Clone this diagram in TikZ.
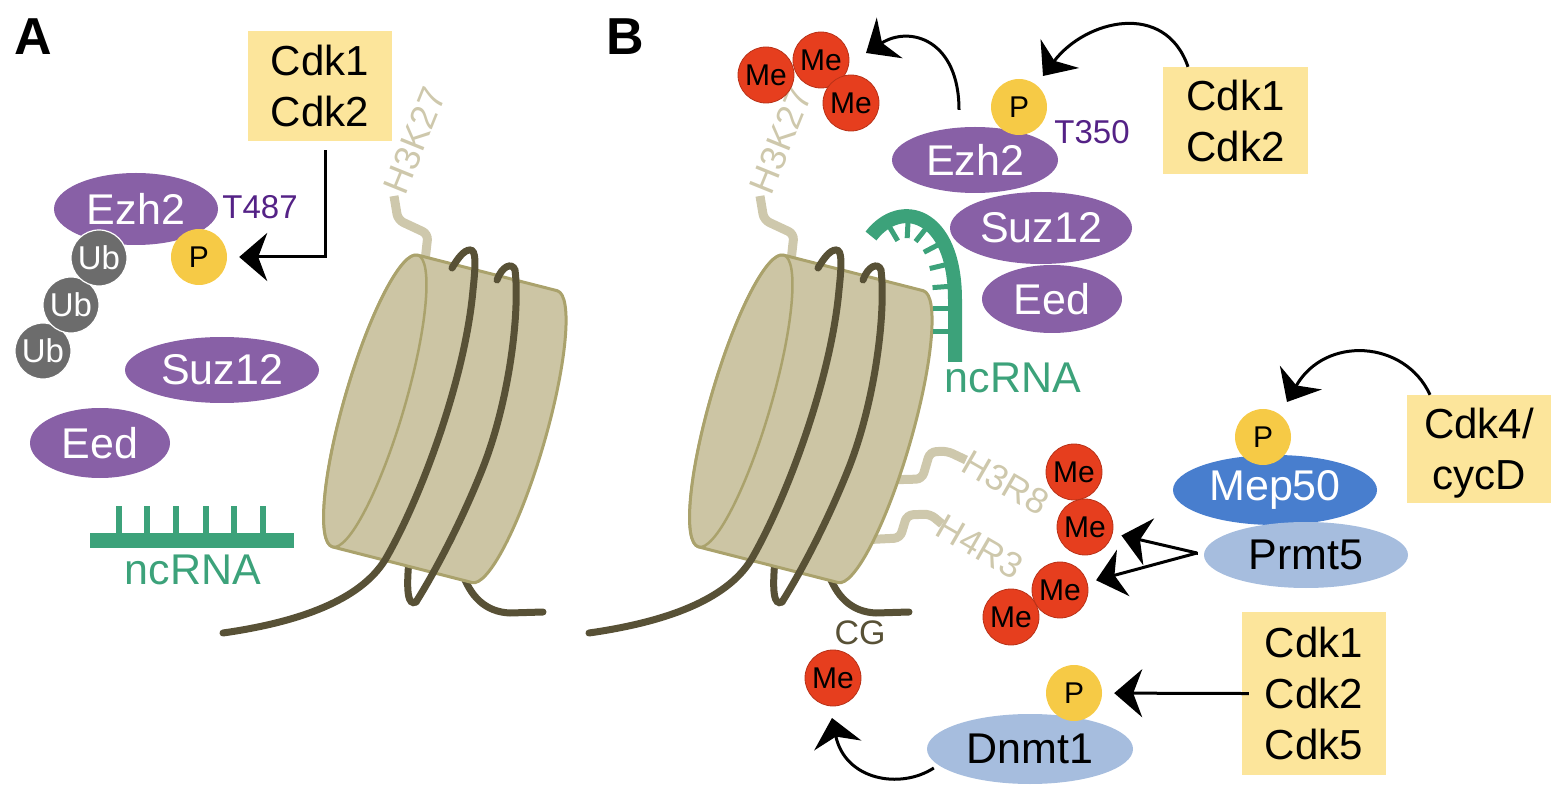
\documentclass[tikz,border=0pt]{standalone}
\usepackage{fontspec}
\setmainfont{Liberation Sans}
\usetikzlibrary{arrows.meta,shapes.geometric,decorations.markings}
\definecolor{purp}{RGB}{136,96,166}
\definecolor{tpurp}{RGB}{84,34,134}
\definecolor{pyel}{RGB}{246,202,70}
\definecolor{boxy}{RGB}{252,229,155}
\definecolor{ubg}{RGB}{108,108,108}
\definecolor{mered}{RGB}{230,62,30}
\definecolor{rnag}{RGB}{60,162,122}
\definecolor{mepb}{RGB}{72,126,206}
\definecolor{lblue}{RGB}{166,189,222}
\definecolor{dna}{RGB}{88,81,54}
\definecolor{nucf}{RGB}{204,197,164}
\definecolor{nucl}{RGB}{170,162,108}
\definecolor{tailc}{RGB}{206,200,172}
\begin{document}
\begin{tikzpicture}[x=1pt,y=-1pt,
  fs/.style={font=\fontsize{#1}{#1}\selectfont},
  prot/.style={ellipse, inner sep=0pt, fill=purp, text=white, fs=43},
  ball/.style={circle, inner sep=0pt, minimum size=56pt},
  pball/.style={ball, fill=pyel, fs=30},
  meball/.style={ball, fill=mered, draw=mered!80!black, line width=0.8pt, fs=30},
  ubball/.style={ball, fill=ubg, text=white, draw=white, line width=1.2pt, fs=33},
  kbox/.style={rectangle, fill=boxy, inner sep=0pt, align=center, minimum width=144pt, font=\fontsize{42}{51}\selectfont},
  arr/.style={draw=black, line width=3pt, -{Stealth[length=28pt,width=48pt,inset=9pt]}},
  dnaline/.style={draw=dna, line width=7pt, line cap=round},
  tailline/.style={draw=tailc, line width=9pt, rounded corners=6pt},
  taillab/.style={text=tailc, fs=36, inner sep=0pt, anchor=west},
]
\useasboundingbox (0,0) rectangle (1561,799);

% panel labels
\node[font=\bfseries\fontsize{52}{52}\selectfont] (labA) at (33,37) {A};
\node[font=\bfseries\fontsize{52}{52}\selectfont] (labB) at (625,37) {B};

% H3R8 / H4R3 tails (panel B)
\draw[tailline] (885,480) -- (922,479) -- (930,452) -- (947,451) -- (966,460);
\draw[tailline] (860,540) -- (900,538) -- (907,515) -- (930,514) -- (942,524);

% nucleosomes
\foreach \sx/\nm in {0/A,366/B}{
 \begin{scope}[shift={(\sx,0)}]
  \draw[dnaline] (462,572) .. controls (470,596) and (485,612) .. (510,613) -- (543,612);
  \draw[dnaline] (416,602) .. controls (408,606) and (406,592) .. (409,560);
  \draw[tailline] (424,270) -- (428,234) -- (398,220) -- (394,196);
  \node[taillab, rotate=68] (hk\nm) at (394,192) {H3K27};
  \begin{scope}[shift={(375,401)}, rotate=-16.3]
    \filldraw[fill=nucf, draw=nucl, line width=3pt, line join=round]
      (0,-152) -- (144,-157) arc[start angle=-90, end angle=90, x radius=30, y radius=152]
      -- (0,152) arc[start angle=90, end angle=270, x radius=30, y radius=152] -- cycle;
    \draw[nucl, line width=2.5pt] (0,0) ellipse [x radius=30, y radius=152];
  \end{scope}
  \draw[dnaline] (223,633) .. controls (300,622) and (360,600) .. (385,560)
     .. controls (420,500) and (465,380) .. (473,290)
     .. controls (476,262) and (476,250) .. (470,250)
     .. controls (464,250) and (458,258) .. (452,268);
  \draw[dnaline] (497,280) .. controls (502,266) and (512,262) .. (515,270)
     .. controls (520,310) and (510,400) .. (482,470)
     .. controls (458,530) and (430,580) .. (416,602);
 \end{scope}
}

% ncRNA B
\draw[rnag, line width=14pt, postaction={decorate},
  decoration={markings, mark=between positions 0.1 and 0.87 step 0.108 with {\draw[rnag, line width=5pt] (0pt,0pt) -- (0pt,-22pt);}}]
  (871,236) .. controls (900,198) and (955,212) .. (955,300) -- (955,362);
\node[text=rnag, fs=43] (rnaB) at (1013,378) {ncRNA};

\node[taillab, rotate=-30] (h3r8) at (966,460) {H3R8};
\node[taillab, rotate=-30] (h4r3) at (940,524) {H4R3};

% panel A proteins
\node[prot, minimum width=164pt, minimum height=72pt] (EzhA) at (136,209) {Ezh2};
\node[ubball] (Ub3) at (43,351) {Ub};
\node[ubball] (Ub2) at (71,305) {Ub};
\node[ubball] (Ub1) at (99,258) {Ub};
\node[pball] (PA) at (199,257) {P};
\node[text=tpurp, fs=33] (T487) at (260,207) {T487};
\node[prot, minimum width=194pt, minimum height=66pt] (SuzA) at (222,370) {Suz12};
\node[prot, minimum width=140pt, minimum height=70pt] (EedA) at (100,443) {Eed};
\fill[rnag] (90,533) rectangle (294,548);
\foreach \t in {119,147,176,206,234,263} \fill[rnag] (\t-3,506) rectangle (\t+3,534);
\node[text=rnag, fs=43] (rnaA) at (193,570) {ncRNA};

% panel B PRC2
\node[prot, minimum width=140pt, minimum height=68pt] (EedB) at (1052,299) {Eed};
\node[prot, minimum width=182pt, minimum height=72pt] (SuzB) at (1041,228) {Suz12};
\node[prot, minimum width=166pt, minimum height=66pt] (EzhB) at (975,160) {Ezh2};
\node[pball] (PB) at (1019,107) {P};
\node[text=tpurp, fs=33] (T350) at (1092,132) {T350};

% Me groups
\node[meball] (MeT1) at (766,75) {Me};
\node[meball] (MeT2) at (821,60) {Me};
\node[meball] (MeT3) at (851,103) {Me};
\node[meball] (MeR1) at (1074,472) {Me};
\node[meball] (MeR2) at (1085,527) {Me};
\node[meball] (MeK2) at (1011,617) {Me};
\node[meball] (MeK1) at (1060,590) {Me};

% Mep50 / Prmt5
\node[ellipse, inner sep=0pt, fill=mepb, text=white, fs=43, minimum width=204pt, minimum height=70pt] (Mep) at (1275,490) {Mep50};
\node[ellipse, inner sep=0pt, fill=lblue, fs=43, minimum width=204pt, minimum height=66pt] (Prmt) at (1306,555) {Prmt5};
\node[pball] (PMep) at (1263,437) {P};

% Dnmt1
\node[ellipse, inner sep=0pt, fill=lblue, fs=43, minimum width=206pt, minimum height=70pt] (Dnmt) at (1030,749) {Dnmt1};
\node[pball] (PDn) at (1074,693) {P};
\node[meball] (MeCG) at (833,678) {Me};
\node[text=dna, fs=34] (CG) at (860,633) {CG};

% kinase boxes
\node[kbox, minimum height=110pt] (boxA) at (320,86) {Cdk1\\Cdk2};
\node[kbox, minimum width=145pt, minimum height=107pt] (boxB1) at (1235.5,120.5) {Cdk1\\Cdk2};
\node[kbox, minimum height=108pt, text depth=0pt] (boxB2) at (1479,449) {Cdk4/\\cycD};
\node[kbox, minimum height=163pt] (boxB3) at (1314,693.5) {Cdk1\\Cdk2\\Cdk5};

% arrow end coordinates
\coordinate (tipMe) at (866,53);
\coordinate (tipPB) at (1043,76);
\coordinate (tipMep) at (1287,402);
\coordinate (tipCG) at (832,718);
\coordinate (prA) at (1197,553);

% arrows
\draw[arr, shorten >=12pt] ([xshift=5pt,yshift=-9pt]boxA.south) |- (PA);
\draw[arr] ([shift={(-16pt,17pt)}]EzhB.north) .. controls (959,40) and (910,25) .. (tipMe);
\draw[arr] ([xshift=-47.5pt]boxB1.north) .. controls (1165,0) and (1085,20) .. (tipPB);
\draw[arr] ([xshift=-49pt]boxB2.north) .. controls (1405,340) and (1325,335) .. (tipMep);
\draw[line width=3pt] ([xshift=-7pt,yshift=2pt]Prmt.west) -- (prA);
\draw[arr, shorten >=9pt] (prA) -- (MeR2);
\draw[arr, shorten >=9pt] (prA) -- (MeK1);
\draw[arr, shorten >=12pt, shorten <=-7pt] (boxB3.west) -- (PDn);
\draw[arr] ([shift={(7pt,-19pt)}]Dnmt.west) .. controls (900,790) and (845,780) .. (tipCG);
\end{tikzpicture}
\end{document}
